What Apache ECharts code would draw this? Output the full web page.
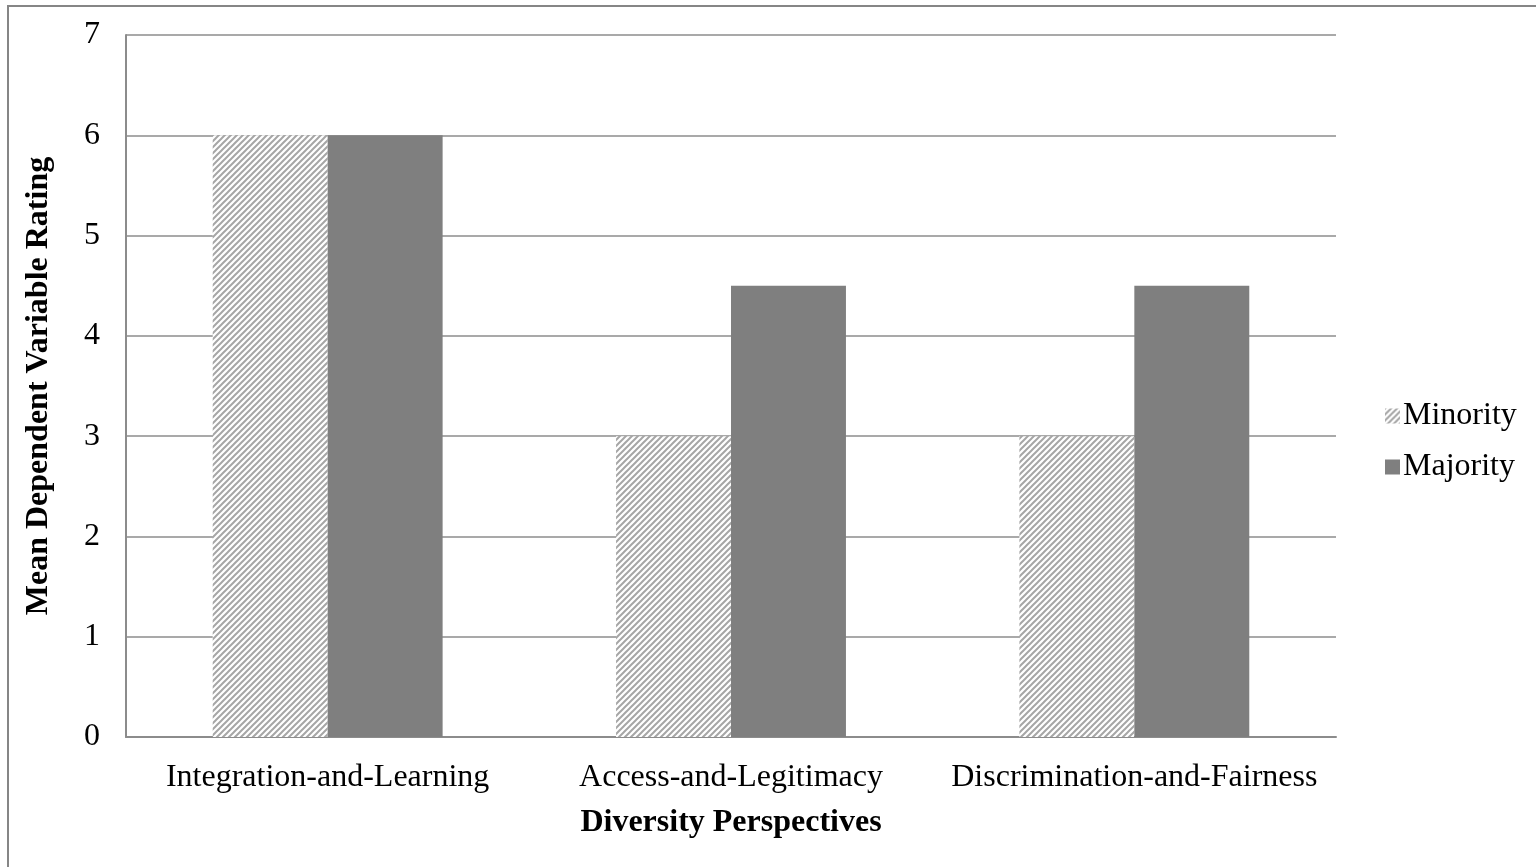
<!DOCTYPE html>
<html>
<head>
<meta charset="utf-8">
<script src="https://cdn.jsdelivr.net/npm/echarts@6/dist/echarts.min.js"></script>
<style>
  html, body { margin: 0; padding: 0; background: #fff; }
  #chart { width: 1536px; height: 867px; }
</style>
</head>
<body>
<div id="chart"></div>
<script>
const categories = ['Integration-and-Learning', 'Access-and-Legitimacy', 'Discrimination-and-Fairness']
const minority = [6, 3, 3]
const majority = [6, 4.5, 4.5]
const yTicks = [0, 1, 2, 3, 4, 5, 6, 7]

// diagonal hatch for the minority bars
const makeHatch = () => {
  const c = document.createElement('canvas')
  c.width = 6
  c.height = 6
  const ctx = c.getContext('2d')
  ctx.fillStyle = '#ffffff'
  ctx.fillRect(0, 0, 6, 6)
  ctx.strokeStyle = '#a6a6a6'
  ctx.lineWidth = 2
  ctx.beginPath()
  ctx.moveTo(-3, 9); ctx.lineTo(9, -3)
  ctx.moveTo(-3, 3); ctx.lineTo(3, -3)
  ctx.moveTo(3, 9); ctx.lineTo(9, 3)
  ctx.stroke()
  return c
}
const hatch = { image: makeHatch(), repeat: 'repeat' }

const font = 'Liberation Serif'
const fs = 32
const chart = echarts.init(document.getElementById('chart'))

const option = {
  animation: false,
  textStyle: { fontFamily: font },
  graphic: [{
    type: 'rect',
    shape: { x: 8, y: 6, width: 1700, height: 1000 },
    style: { fill: 'none', stroke: '#868686', lineWidth: 2 },
    silent: true
  }],
  grid: { left: 126, top: 35, right: 200, bottom: 130 },
  legend: {
    orient: 'vertical',
    left: 1380,
    top: 395,
    icon: 'rect',
    itemWidth: 15,
    itemHeight: 15,
    itemGap: 19,
    textStyle: { fontFamily: font, fontSize: fs, color: '#000', padding: [0, 0, 0, -2] },
    data: ['Minority', 'Majority']
  },
  xAxis: {
    type: 'category',
    data: categories,
    name: 'Diversity Perspectives',
    nameLocation: 'middle',
    nameGap: 70,
    nameTextStyle: { fontFamily: font, fontSize: fs, fontWeight: 'bold', color: '#000' },
    axisLine: { lineStyle: { color: '#8c8c8c', width: 2 } },
    axisTick: { show: false },
    axisLabel: { fontFamily: font, fontSize: fs, color: '#000', margin: 25, interval: 0 }
  },
  yAxis: {
    type: 'value',
    min: yTicks[0],
    max: yTicks[yTicks.length - 1],
    interval: 1,
    name: 'Mean Dependent Variable Rating',
    nameLocation: 'middle',
    nameGap: 71,
    nameTextStyle: { fontFamily: font, fontSize: fs, fontWeight: 'bold', color: '#000' },
    axisLine: { show: true, lineStyle: { color: '#8c8c8c', width: 2 } },
    axisTick: { show: false },
    axisLabel: { fontFamily: font, fontSize: fs, color: '#000', margin: 26 },
    splitLine: { lineStyle: { color: '#8c8c8c', width: 1.5 } }
  },
  series: [
    {
      name: 'Minority',
      type: 'bar',
      data: minority,
      barGap: '0%',
      barCategoryGap: '43%',
      itemStyle: { color: hatch }
    },
    {
      name: 'Majority',
      type: 'bar',
      data: majority,
      barGap: '0%',
      barCategoryGap: '43%',
      itemStyle: { color: '#7f7f7f' }
    }
  ]
}

chart.setOption(option)
</script>
</body>
</html>
